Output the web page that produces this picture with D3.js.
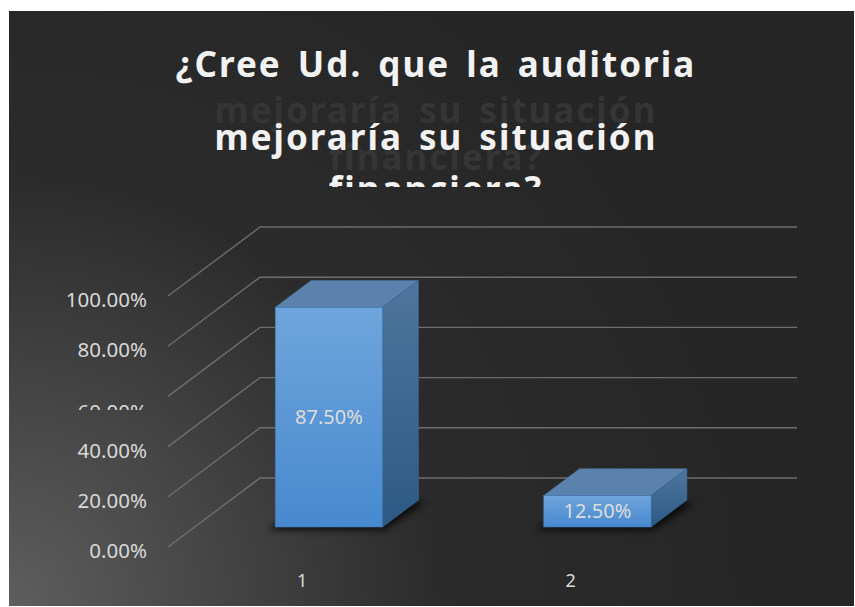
<!DOCTYPE html>
<html>
<head>
<meta charset="utf-8">
<script src="https://cdn.jsdelivr.net/npm/d3@7"></script>
<style>
  body { margin: 0; background: #ffffff; }
  svg { display: block; }
</style>
</head>
<body>
<div id="app"></div>
<script>
const categories = ["1", "2"];
const values = [0.875, 0.125];
const valueLabels = ["87.50%", "12.50%"];
const ticks = [0, 0.2, 0.4, 0.6, 0.8, 1];
const titleLines = ["¿Cree Ud. que la auditoria", "mejoraría su situación", "financiera?"];

const width = 855;
const height = 607;

const svg = d3
  .select("#app")
  .append("svg")
  .attr("width", width)
  .attr("height", height);

const defs = svg.append("defs");

//background
const bg = defs
  .append("radialGradient")
  .attr("id", "bg")
  .attr("gradientUnits", "userSpaceOnUse")
  .attr("cx", 9)
  .attr("cy", 606)
  .attr("r", 740);
bg.append("stop").attr("offset", 0).attr("stop-color", "#5e5e5e");
bg.append("stop").attr("offset", 0.58).attr("stop-color", "#2b2b2b");
bg.append("stop").attr("offset", 1).attr("stop-color", "#262626");

const front = defs
  .append("linearGradient")
  .attr("id", "front")
  .attr("x1", 0).attr("y1", 0).attr("x2", 0).attr("y2", 1);
front.append("stop").attr("offset", 0).attr("stop-color", "#6fa5dc");
front.append("stop").attr("offset", 1).attr("stop-color", "#4789cf");

const side = defs
  .append("linearGradient")
  .attr("id", "side")
  .attr("x1", 0).attr("y1", 0).attr("x2", 0).attr("y2", 1);
side.append("stop").attr("offset", 0).attr("stop-color", "#4e769e");
side.append("stop").attr("offset", 1).attr("stop-color", "#2c5985");

defs
  .append("filter")
  .attr("id", "blur")
  .attr("x", "-20%").attr("y", "-50%").attr("width", "140%").attr("height", "200%")
  .append("feGaussianBlur")
  .attr("stdDeviation", 3.5);

defs
  .append("clipPath")
  .attr("id", "titleClip")
  .append("rect")
  .attr("x", 0).attr("y", 0).attr("width", width).attr("height", 187);

defs
  .append("clipPath")
  .attr("id", "tickClip")
  .append("rect")
  .attr("x", 0).attr("y", 403).attr("width", 160).attr("height", 7);

svg
  .append("rect")
  .attr("x", 9)
  .attr("y", 11)
  .attr("width", 845)
  .attr("height", 595)
  .attr("fill", "url(#bg)");

//scales
const x = d3
  .scaleBand()
  .domain(categories)
  .range([168, 705])
  .paddingInner(0.6)
  .paddingOuter(0.3);

const y = d3.scaleLinear().domain([0, 1]).range([547, 296]);

// depth of the floor, 0 = front plane, 1 = back wall
const depthX = d3.scaleLinear().domain([0, 1]).range([0, 92]);
const depthY = d3.scaleLinear().domain([0, 1]).range([0, -69]);
const barFront = 0.29;
const barBack = 0.68;

//title
const title = svg
  .append("g")
  .attr("clip-path", "url(#titleClip)")
  .attr("font-family", "'Noto Sans', sans-serif")
  .attr("font-weight", "bold")
  .attr("font-size", 35)
  .attr("letter-spacing", 2)
  .attr("word-spacing", 5)
  .attr("text-anchor", "middle");

const ghostY = [77, 123, 170];
const lineY = [77, 150, 202];

title
  .selectAll(".ghost")
  .data(titleLines)
  .enter()
  .append("text")
  .attr("class", "ghost")
  .attr("x", 436)
  .attr("y", (d, i) => ghostY[i])
  .attr("fill", "#353535")
  .text((d) => d);

title
  .selectAll(".line")
  .data(titleLines)
  .enter()
  .append("text")
  .attr("class", "line")
  .attr("x", 436)
  .attr("y", (d, i) => lineY[i])
  .attr("fill", "#f2f2f2")
  .text((d) => d);

//gridlines
svg
  .append("g")
  .selectAll("path")
  .data(ticks)
  .enter()
  .append("path")
  .attr("d", (d) => {
    const x0 = x.range()[0];
    const x1 = x.range()[1];
    const yf = y(d);
    return (
      "M" + x0 + "," + yf +
      "L" + (x0 + depthX(1)) + "," + (yf + depthY(1)) +
      "L" + (x1 + depthX(1)) + "," + (yf + depthY(1))
    );
  })
  .attr("fill", "none")
  .attr("stroke", "#6e6e6e")
  .attr("stroke-width", 1.4);

//y labels
svg
  .append("g")
  .selectAll("text")
  .data(ticks)
  .enter()
  .append("text")
  .attr("x", 147)
  .attr("y", (d) => (d === 0.6 ? y(d) + 23 : y(d) + 11))
  .attr("clip-path", (d) => (d === 0.6 ? "url(#tickClip)" : null))
  .attr("text-anchor", "end")
  .attr("font-family", "'Noto Sans', sans-serif")
  .attr("font-size", 20.5)
  .attr("fill", "#d9d9d9")
  .text((d) => d3.format(".2%")(d));

//x labels
svg
  .append("g")
  .selectAll("text")
  .data(categories)
  .enter()
  .append("text")
  .attr("x", (d) => x(d) + x.bandwidth() / 2)
  .attr("y", 587)
  .attr("text-anchor", "middle")
  .attr("font-family", "'Noto Sans', sans-serif")
  .attr("font-size", 18)
  .attr("fill", "#d9d9d9")
  .text((d) => d);

//bars
const bars = svg
  .append("g")
  .selectAll("g")
  .data(categories.map((c, i) => ({ cat: c, value: values[i], label: valueLabels[i] })))
  .enter()
  .append("g");

const geo = (d) => {
  const fx = depthX(barFront);
  const fy = depthY(barFront);
  const bx = depthX(barBack);
  const by = depthY(barBack);
  return {
    l: x(d.cat) + fx,
    r: x(d.cat) + x.bandwidth() + fx,
    b: y(0) + fy,
    t: y(d.value) + fy,
    dx: bx - fx,
    dy: by - fy,
  };
};

// shadow on the floor
bars
  .append("path")
  .attr("d", (d) => {
    const g = geo(d);
    return (
      "M" + (g.l - 8) + "," + (g.b + 3) +
      "L" + (g.r + 2) + "," + (g.b + 3) +
      "L" + (g.r + g.dx + 8) + "," + (g.b + g.dy + 2) +
      "L" + (g.l + g.dx) + "," + (g.b + g.dy + 2) + "Z"
    );
  })
  .attr("fill", "#000000")
  .attr("opacity", 0.75)
  .attr("filter", "url(#blur)");

bars
  .append("path")
  .attr("d", (d) => {
    const g = geo(d);
    return (
      "M" + g.l + "," + g.t +
      "L" + (g.l + g.dx) + "," + (g.t + g.dy) +
      "L" + (g.r + g.dx) + "," + (g.t + g.dy) +
      "L" + g.r + "," + g.t + "Z"
    );
  })
  .attr("fill", "#5a82ac")
  .attr("stroke", "#4a74a0")
  .attr("stroke-width", 0.6);

bars
  .append("path")
  .attr("d", (d) => {
    const g = geo(d);
    return (
      "M" + g.r + "," + g.t +
      "L" + (g.r + g.dx) + "," + (g.t + g.dy) +
      "L" + (g.r + g.dx) + "," + (g.b + g.dy) +
      "L" + g.r + "," + g.b + "Z"
    );
  })
  .attr("fill", "url(#side)")
  .attr("stroke", "#345f8a")
  .attr("stroke-width", 0.6);

bars
  .append("rect")
  .attr("x", (d) => geo(d).l)
  .attr("y", (d) => geo(d).t)
  .attr("width", x.bandwidth())
  .attr("height", (d) => geo(d).b - geo(d).t)
  .attr("fill", "url(#front)")
  .attr("stroke", "#3f78b5")
  .attr("stroke-width", 0.6);

bars
  .append("text")
  .attr("x", (d) => geo(d).l + x.bandwidth() / 2)
  .attr("y", (d) => (geo(d).t + geo(d).b) / 2 + 7)
  .attr("text-anchor", "middle")
  .attr("font-family", "'Noto Sans', sans-serif")
  .attr("font-size", 20)
  .attr("fill", "#dcdcdc")
  .text((d) => d.label);
</script>
</body>
</html>
